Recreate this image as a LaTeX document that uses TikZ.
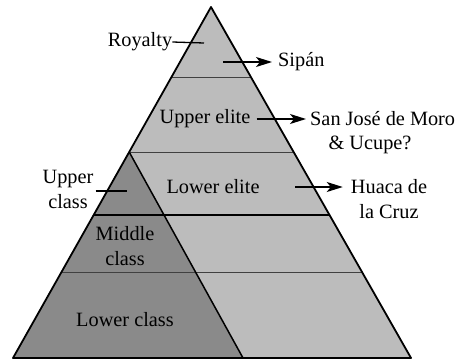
\documentclass[tikz,border=0pt]{standalone}
\usepackage{fontspec}
\setmainfont{Liberation Serif}
\usetikzlibrary{calc,arrows.meta}
\definecolor{lightg}{RGB}{188,188,188}
\definecolor{darkg}{RGB}{138,138,138}
\tikzset{
  lbl/.style={inner sep=0pt, font=\fontsize{20.3}{25}\selectfont, align=center},
  edge/.style={line width=1.8pt, line join=round},
  thin/.style={line width=0.8pt, draw=black!75},
  mid/.style={line width=1.5pt},
  tick/.style={line width=1.3pt},
  arr/.style={line width=1.4pt, shorten >=6pt, -{Stealth[length=16pt,width=10pt,inset=4pt]}}
}
\begin{document}
\begin{tikzpicture}[x=1pt,y=-1pt]
\useasboundingbox (0,0) rectangle (462,361);
\coordinate (A) at (211,7);
\coordinate (BL) at (13,358);
\coordinate (BR) at (411,358);
\coordinate (Q) at (243,358);
% level points
\coordinate (L1) at ($(A)!0.1994!(BL)$);
\coordinate (R1) at ($(A)!0.1994!(BR)$);
\coordinate (P) at ($(A)!0.4131!(BL)$);
\coordinate (R2) at ($(A)!0.4131!(BR)$);
\coordinate (L3) at ($(A)!0.5926!(BL)$);
\coordinate (R3) at ($(A)!0.5926!(BR)$);
\coordinate (L4) at ($(A)!0.755!(BL)$);
\coordinate (R4) at ($(A)!0.755!(BR)$);
% fills
\fill[lightg] (A) -- (BL) -- (BR) -- cycle;
\fill[darkg] (P) -- (BL) -- (Q) -- cycle;
% dividers
\draw[thin] (L1) -- (R1);
\draw[thin] (P) -- (R2);
\draw[mid] (L3) -- (R3);
\draw[thin] (L4) -- (R4);
\draw[mid] (P) -- (Q);
\draw[edge] (A) -- (BL) -- (BR) -- cycle;
% labels
\node[lbl] (roy) at (140,42) {Royalty};
\coordinate (royend) at (204,43);
\draw[tick] (roy.east) -- (royend);
\coordinate (sipstart) at (223,62);
\node[lbl, anchor=west] (sip) at (278,62) {Sipán};
\draw[arr] (sipstart) -- (sip.west);
\node[lbl] (ue) at (205,119) {Upper elite};
\node[lbl, anchor=west] (sj) at (310,119) {San José de Moro};
\node[lbl] (uc) at (370,145) {\& Ucupe?};
\draw[arr, shorten >=4pt] ([xshift=6pt]ue.east) -- (sj.west);
\node[lbl] (le) at (213,187) {Lower elite};
\coordinate (lestart) at (295,187);
\node[lbl] (hu) at (389,187) {Huaca de};
\node[lbl] (lc) at (389,212) {la Cruz};
\draw[arr, shorten >=8pt] (lestart) -- (hu.west);
\node[lbl] (uc2) at (68,189) {Upper\\class};
\coordinate (ucend) at (127,191);
\draw[tick] ([xshift=2pt]uc2.east |- ucend) -- (ucend);
\node[lbl] (mc) at (125,246) {Middle\\class};
\node[lbl] (lcl) at (125,320) {Lower class};
\end{tikzpicture}
\end{document}
